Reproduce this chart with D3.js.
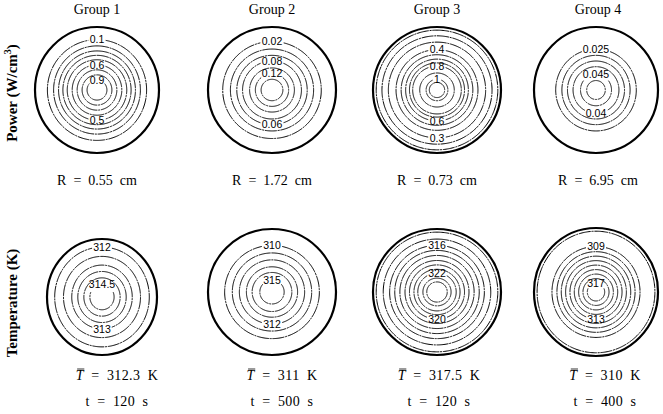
<!DOCTYPE html>
<html>
<head>
<meta charset="utf-8">
<script src="https://cdn.jsdelivr.net/npm/d3@7"></script>
<style>
  html, body { margin: 0; padding: 0; background: #fff; }
  svg { display: block; }
</style>
</head>
<body>
<svg id="chart" width="663" height="414"></svg>
<script>
// ---- data -------------------------------------------------------------
const groups = ["Group 1", "Group 2", "Group 3", "Group 4"];
const domainRadius = ["0.55", "1.72", "0.73", "6.95"];      // cm
const meanTemperature = ["312.3", "311", "317.5", "310"];    // K
const elapsedTime = [120, 500, 120, 400];                    // s

// power density contours (W/cm^3): levels and their radius as a fraction of R
const powerLevels = [
  [0.1, 0.2, 0.3, 0.4, 0.5, 0.6, 0.7, 0.8, 0.9],
  [0.02, 0.04, 0.06, 0.08, 0.10, 0.12, 0.14],
  [0.1, 0.2, 0.3, 0.4, 0.5, 0.6, 0.7, 0.8, 0.9, 1.0, 1.1],
  [0.025, 0.03, 0.035, 0.04, 0.045, 0.05]
];
const powerRadii = [
  [0.80, 0.70, 0.62, 0.55, 0.48, 0.40, 0.32, 0.24, 0.16],
  [0.77, 0.65, 0.55, 0.46, 0.35, 0.26, 0.17],
  [0.95, 0.86, 0.76, 0.64, 0.56, 0.49, 0.43, 0.38, 0.27, 0.17, 0.12],
  [0.65, 0.55, 0.46, 0.37, 0.25, 0.15]
];
const powerLabelsTop = [[0.1, 0.6, 0.9], [0.02, 0.08, 0.12], [0.4, 0.8, 1.0], [0.025, 0.045]];
const powerLabelsBottom = [[0.5], [0.06], [0.6, 0.3], [0.04]];

// temperature contours (K)
const tempLevels = [
  [312, 312.5, 313, 313.5, 314, 314.5],
  [310, 311, 312, 313, 314, 315],
  [314, 315, 316, 317, 318, 319, 320, 321, 322, 323, 324],
  [308, 309, 310, 311, 312, 313, 314, 315, 316, 317]
];
const tempRadii = [
  [0.86, 0.70, 0.55, 0.44, 0.33, 0.22],
  [0.74, 0.62, 0.51, 0.40, 0.31, 0.19],
  [0.95, 0.84, 0.74, 0.66, 0.58, 0.50, 0.43, 0.36, 0.30, 0.22, 0.16],
  [0.95, 0.71, 0.63, 0.56, 0.49, 0.42, 0.35, 0.28, 0.21, 0.14]
];
const tempLabelsTop = [[312, 314.5], [310, 315], [316, 322], [309, 317]];
const tempLabelsBottom = [[313], [312], [320], [313]];

// ---- layout -----------------------------------------------------------
const svg = d3.select("#chart");
svg.append("rect").attr("width", 663).attr("height", 414).attr("fill", "#fff");

const SERIF = "'Liberation Serif', 'DejaVu Serif', serif";
const SANS = "'Liberation Sans', Arial, sans-serif";

const topTextX = [97, 272, 437, 598];
const bottomTextX = [117, 282, 439, 605];
const powerDisks = [
  { cx: 97,  cy: 90, rx: 62, ry: 63 },
  { cx: 272, cy: 90, rx: 64, ry: 63 },
  { cx: 437, cy: 90, rx: 64, ry: 63 },
  { cx: 596, cy: 90, rx: 62, ry: 63 }
];
const tempDisks = [
  { cx: 102, cy: 297, rx: 55, ry: 58 },
  { cx: 272, cy: 292, rx: 64, ry: 63 },
  { cx: 437, cy: 292, rx: 64, ry: 63 },
  { cx: 596, cy: 292, rx: 62, ry: 64 }
];

const fmt = d3.format("~g");

function drawPanel(disk, levels, radii, topLabels, bottomLabels) {
  const g = svg.append("g");
  const x = d3.scaleLinear().domain([-1, 1]).range([disk.cx - disk.rx, disk.cx + disk.rx]);
  const y = d3.scaleLinear().domain([-1, 1]).range([disk.cy + disk.ry, disk.cy - disk.ry]);
  const line = d3.line()
    .x(d => x(d.r * Math.sin(d.a)))
    .y(d => y(d.r * Math.cos(d.a)));

  const ringLayer = g.append("g");
  const labelLayer = g.append("g");

  levels.forEach((lv, i) => {
    const r = radii[i];
    const anchors = [];
    if (topLabels.includes(lv)) anchors.push(0);
    if (bottomLabels.includes(lv)) anchors.push(Math.PI);

    // inline contour labels: the labelled ring is broken under its text
    const gaps = anchors.map(a => {
      const t = labelLayer.append("text")
        .attr("x", x(r * Math.sin(a)))
        .attr("y", y(r * Math.cos(a)))
        .attr("dy", "0.36em")
        .attr("text-anchor", "middle")
        .attr("font-family", SANS)
        .attr("font-size", 10.5)
        .attr("fill", "#000")
        .text(fmt(lv));
      const w = t.node().getComputedTextLength();
      const rpx = r * (disk.rx + disk.ry) / 2;
      const half = (w / 2 + 1.5) / rpx;
      return [a - half, a + half];
    });

    const segs = [];
    if (gaps.length === 0) {
      segs.push({ from: 0, to: 2 * Math.PI, closed: true });
    } else {
      gaps.sort((p, q) => p[0] - q[0]);
      gaps.forEach((gp, k) => {
        const next = gaps[(k + 1) % gaps.length];
        let end = next[0];
        if (k === gaps.length - 1) end += 2 * Math.PI;
        segs.push({ from: gp[1], to: end, closed: false });
      });
    }
    segs.forEach(s => {
      const n = Math.max(8, Math.ceil((s.to - s.from) / 0.02));
      const pts = d3.range(n + 1).map(k => ({ r, a: s.from + (s.to - s.from) * k / n }));
      ringLayer.append("path")
        .attr("d", line.curve(s.closed ? d3.curveLinearClosed : d3.curveLinear)(pts))
        .attr("fill", "none")
        .attr("stroke", "#000")
        .attr("stroke-width", 1)
        .attr("stroke-dasharray", "12,0.8,2,0.8");
    });
  });

  // domain boundary
  g.append("ellipse")
    .attr("cx", x(0)).attr("cy", y(0))
    .attr("rx", x(1) - x(0)).attr("ry", y(-1) - y(0))
    .attr("fill", "none")
    .attr("stroke", "#000")
    .attr("stroke-width", 2.2);
}

groups.forEach((name, i) => {
  drawPanel(powerDisks[i], powerLevels[i], powerRadii[i], powerLabelsTop[i], powerLabelsBottom[i]);
  drawPanel(tempDisks[i], tempLevels[i], tempRadii[i], tempLabelsTop[i], tempLabelsBottom[i]);

  svg.append("text")
    .attr("x", topTextX[i]).attr("y", 14)
    .attr("text-anchor", "middle")
    .attr("font-family", SERIF).attr("font-size", 14)
    .text(name);

  svg.append("text")
    .attr("x", topTextX[i]).attr("y", 185)
    .attr("text-anchor", "middle")
    .attr("font-family", SERIF).attr("font-size", 14)
    .text(`R\u2002=\u2002${domainRadius[i]}\u2002cm`);

  const tbar = svg.append("text")
    .attr("x", bottomTextX[i]).attr("y", 380)
    .attr("text-anchor", "middle")
    .attr("font-family", SERIF).attr("font-size", 14)
    .attr("letter-spacing", 0.4);
  tbar.append("tspan").attr("font-style", "italic").text("T");
  tbar.append("tspan").text(`\u2002=\u2002${meanTemperature[i]}\u2002K`);
  const box = tbar.node().getExtentOfChar(0);
  svg.append("line")
    .attr("x1", box.x + 1.5).attr("x2", box.x + box.width + 0.5)
    .attr("y1", box.y + 1).attr("y2", box.y + 1)
    .attr("stroke", "#000").attr("stroke-width", 0.8);

  svg.append("text")
    .attr("x", bottomTextX[i]).attr("y", 406)
    .attr("text-anchor", "middle")
    .attr("font-family", SERIF).attr("font-size", 14)
    .attr("letter-spacing", 0.4)
    .text(`t\u2002=\u2002${elapsedTime[i]}\u2002s`);
});

// row titles
const powerTitle = svg.append("text")
  .attr("transform", "translate(17,93) rotate(-90)")
  .attr("text-anchor", "middle")
  .attr("font-family", SERIF).attr("font-size", 15).attr("font-weight", "bold");
powerTitle.append("tspan").text("Power (W/cm");
powerTitle.append("tspan").attr("dy", -6).attr("font-size", 10).text("3");
powerTitle.append("tspan").attr("dy", 6).text(")");

svg.append("text")
  .attr("transform", "translate(17,303) rotate(-90)")
  .attr("text-anchor", "middle")
  .attr("font-family", SERIF).attr("font-size", 15).attr("font-weight", "bold")
  .text("Temperature (K)");
</script>
</body>
</html>
